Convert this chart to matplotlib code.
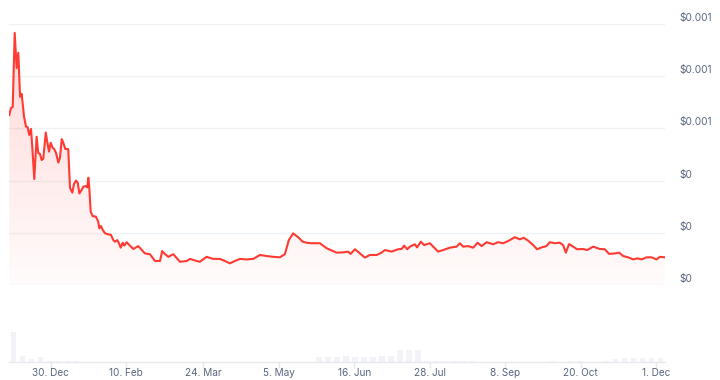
import matplotlib.pyplot as plt
import matplotlib.transforms as mtransforms
import numpy as np
import pandas as pd

plt.rcParams['font.family'] = ['Inter', 'DejaVu Sans']

start = pd.Timestamp('2023-12-07')

# price line: days since start, price in units of 1e-4 USD
day_offsets = [
    0, 0.9, 1.9, 3.0, 4.1, 5.0, 6.0, 6.9, 8.2, 9.3,
    10.2, 11.1, 12.1, 13.0, 13.9, 15.2, 16.1, 17.1, 18.0, 18.9,
    20.3, 21.1, 22.1, 23.0, 24.2, 25.0, 26.0, 27.3, 28.2, 29.2,
    30.1, 31.2, 32.8, 33.8, 35.1, 36.0, 37.1, 38.1, 39.0, 40.3,
    41.2, 42.7, 43.4, 44.0, 44.5, 45.3, 46.4, 48.2, 49.5, 50.1,
    51.0, 52.0, 53.3, 55.1, 56.6, 57.9, 58.8, 60.1, 60.9, 62.0,
    63.1, 64.0, 65.3, 69.0, 71.8, 75.5, 78.3, 81.1, 83.9, 85.1,
    86.6, 88.5, 91.3, 95.0, 98.7, 100.6, 104.3, 106.1, 109.8, 113.5,
    117.3, 120.0, 122.8, 125.6, 128.4, 132.1, 135.8, 139.5, 143.2, 146.9,
    150.6, 153.4, 155.6, 158.0, 160.8, 163.3, 165.5, 168.3, 172.9, 176.6,
    182.2, 185.9, 188.6, 190.0, 192.4, 195.2, 197.9, 200.7, 204.5, 207.2,
    209.1, 212.8, 216.5, 218.4, 219.8, 221.5, 223.0, 225.8, 227.0, 229.1,
    230.9, 234.1, 238.7, 241.5, 245.2, 249.0, 250.8, 252.6, 255.4, 258.2,
    260.7, 262.9, 265.7, 269.3, 272.1, 274.9, 278.1, 281.4, 284.2, 286.4,
    288.8, 291.6, 293.8, 296.3, 299.0, 300.9, 303.7, 306.4, 308.3, 309.8,
    311.6, 313.9, 316.1, 319.4, 321.7, 325.0, 328.7, 331.5, 333.9, 337.1,
    339.5, 341.7, 344.5, 347.3, 349.7, 352.0, 354.7, 357.5, 360.3, 362.1,
    364.9,
]
price_e4 = [
    6.51, 6.78, 6.82, 9.66, 8.31, 8.90, 7.21, 7.32, 6.45, 6.07,
    6.05, 5.75, 5.98, 5.06, 4.06, 5.68, 5.06, 5.02, 4.79, 4.83,
    5.84, 5.49, 5.11, 5.45, 5.25, 5.21, 5.06, 4.69, 4.87, 5.59,
    5.44, 5.21, 5.21, 3.72, 3.54, 3.87, 4.00, 3.92, 3.51, 3.64,
    3.77, 3.79, 3.74, 4.11, 3.77, 2.81, 2.64, 2.62, 2.43, 2.17,
    2.26, 2.11, 1.98, 1.94, 1.92, 1.72, 1.66, 1.72, 1.62, 1.43,
    1.62, 1.51, 1.64, 1.38, 1.49, 1.21, 1.18, 0.92, 0.92, 1.30,
    1.19, 1.08, 1.18, 0.89, 0.92, 1.00, 0.92, 0.89, 1.08, 1.00,
    1.00, 0.92, 0.83, 0.92, 1.00, 0.98, 1.00, 1.15, 1.11, 1.08,
    1.06, 1.18, 1.72, 1.98, 1.83, 1.66, 1.62, 1.60, 1.60, 1.41,
    1.24, 1.25, 1.28, 1.19, 1.37, 1.21, 1.05, 1.15, 1.15, 1.24,
    1.34, 1.28, 1.37, 1.38, 1.51, 1.37, 1.47, 1.56, 1.44, 1.66,
    1.53, 1.60, 1.28, 1.34, 1.43, 1.47, 1.60, 1.47, 1.49, 1.43,
    1.62, 1.49, 1.64, 1.56, 1.64, 1.60, 1.70, 1.83, 1.75, 1.81,
    1.70, 1.53, 1.37, 1.44, 1.49, 1.64, 1.60, 1.62, 1.53, 1.24,
    1.57, 1.47, 1.37, 1.38, 1.34, 1.47, 1.38, 1.37, 1.19, 1.21,
    1.24, 1.11, 1.06, 0.98, 1.02, 0.98, 1.06, 1.06, 0.98, 1.08,
    1.06,
]

# volume in 5-day bins (relative units)
vol_bin_days = 5
volume = [
    30, 6, 3, 5, 1, 1, 1, 1, 0.5, 0.5,
    0.5, 0.5, 0.5, 0.5, 0.5, 0.5, 0.5, 0.5, 0.5, 0.5,
    0.5, 0.5, 0.5, 0.5, 0.5, 0.5, 0.5, 0.5, 0.5, 0.5,
    0.5, 0.5, 0.5, 0.5, 5.5, 5, 5.5, 6, 5.5, 5,
    5.5, 6, 6.5, 12, 12.5, 12, 1.5, 1.5, 1.5, 1.5,
    1.5, 1.5, 0.5, 0.5, 0.5, 0.5, 0.5, 0.5, 0.5, 0.5,
    1, 0.5, 1, 1.5, 0.5, 0.5, 1, 3.5, 4, 4,
    4.5, 4, 4,
]

x_tick_dates = ['2023-12-30', '2024-02-10', '2024-03-24', '2024-05-05', '2024-06-16',
                '2024-07-28', '2024-09-08', '2024-10-20', '2024-12-01']
x_tick_labels = ['30. Dec', '10. Feb', '24. Mar', '5. May', '16. Jun',
                 '28. Jul', '8. Sep', '20. Oct', '1. Dec']
y_ticks = [0, 0.0002, 0.0004, 0.0006, 0.0008, 0.001]
y_tick_labels = ['$0', '$0', '$0', '$0.001', '$0.001', '$0.001']

dates = start + pd.to_timedelta(day_offsets, unit='D')
prices = np.array(price_e4) * 1e-4
vol_dates = start + pd.to_timedelta(np.arange(len(volume)) * vol_bin_days + vol_bin_days / 2, unit='D')
end = start + pd.Timedelta(days=365)

text_color = '#58667e'
grid_color = '#eff2f5'
line_color = '#ff3a33'

fig = plt.figure(figsize=(7.2, 3.8), dpi=100)
ax = fig.add_axes([9.3 / 720, 1 - 285 / 380, 655.7 / 720, 261 / 380])
axv = fig.add_axes([9.3 / 720, 1 - 362 / 380, 655.7 / 720, 62 / 380])

# price panel
ax.set_xlim(start, end)
ax.set_ylim(0, 0.001)
ax.axis('off')
for v in y_ticks:
    ax.axhline(v, color=grid_color, lw=1, zorder=0)
ax.plot(dates, prices, color=line_color, lw=1.5, zorder=4, solid_joinstyle='round')

# gradient fill under the line
poly = ax.fill_between(dates, prices, 0, color='none', lw=0)
xlo, xhi = ax.get_xlim()
grad = np.zeros((256, 1, 4))
grad[:, 0, 0] = 1.0
grad[:, 0, 1] = 0.23
grad[:, 0, 2] = 0.2
grad[:, 0, 3] = np.linspace(0.2, 0.02, 256)
img = ax.imshow(grad, extent=[xlo, xhi, 0, prices.max()], origin='upper',
                aspect='auto', zorder=2)
img.set_clip_path(poly.get_paths()[0], transform=ax.transData)
ax.set_xlim(xlo, xhi)
ax.set_ylim(0, 0.001)

# right side price labels
lab_trans = mtransforms.offset_copy(ax.get_yaxis_transform(), fig=fig, x=0, y=6, units='dots')
for v, lab in zip(y_ticks, y_tick_labels):
    ax.text((679.3 - 9.3) / 655.7, v, lab, transform=lab_trans, ha='left', va='center',
            fontsize=7.3, color=text_color)

# volume panel
axv.bar(vol_dates, volume, width=3, color='#f1f3f7', lw=0)
axv.set_xlim(start, end)
axv.set_ylim(0, 62)
for side in ['top', 'left', 'right']:
    axv.spines[side].set_visible(False)
axv.spines['bottom'].set_color('#e6e9ee')
axv.spines['bottom'].set_linewidth(1)
axv.set_yticks([])
axv.set_xticks(pd.to_datetime(x_tick_dates))
axv.set_xticklabels(x_tick_labels)
axv.tick_params(axis='x', length=4, width=1, color='#e6e9ee', pad=0.5,
                labelsize=7.2, labelcolor=text_color)

plt.savefig('out.png', dpi=100)
